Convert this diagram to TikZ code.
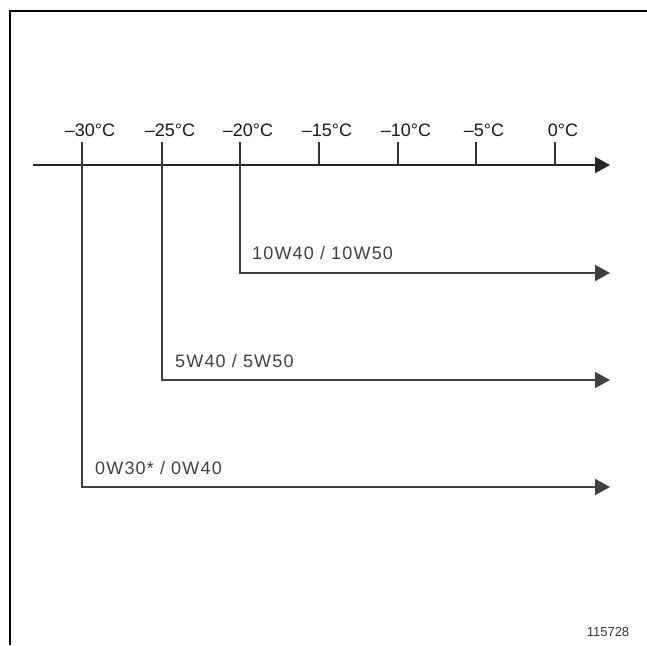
\documentclass[tikz,border=0pt]{standalone}
\usepackage{fontspec}
\setmainfont{Liberation Sans}
\newfontfamily\spacedfont[LetterSpace=6.5]{Liberation Sans}
\usetikzlibrary{arrows.meta}
\begin{document}
\begin{tikzpicture}[x=1pt,y=-1pt,
  frameline/.style={line width=2.5pt, black},
  axisline/.style={line width=1.8pt, black!85, -{Triangle[length=15pt,width=16pt]}},
  oilline/.style={line width=1.6pt, black!75, -{Triangle[length=15pt,width=16pt]}},
  tickline/.style={line width=1.4pt, black!80},
  templabel/.style={font=\fontsize{18}{21}\selectfont, anchor=center, inner sep=0pt, text=black!90},
  oillabel/.style={font=\spacedfont\fontsize{18}{21}\selectfont, anchor=west, inner sep=0pt, text=black!75},
  reflabel/.style={font=\fontsize{13}{15}\selectfont, inner sep=0pt, text=black!80}]
\useasboundingbox (0,0) rectangle (647,645);
% frame
\coordinate (fbl) at (10,645);
\coordinate (ftl) at (10,11);
\coordinate (ftr) at (647,11);
\draw[frameline] (fbl) -- (ftl) -- (ftr);
% axis
\coordinate (axstart) at (33,165);
\coordinate (axend) at (610,165);
\draw[axisline] (axstart) -- (axend);
% ticks and labels
\foreach \nm/\xx/\lab in {m30/82/{–30°C}, m25/162/{–25°C}, m20/240/{–20°C}, m15/319/{–15°C}, m10/398/{–10°C}, m5/476/{–5°C}, z0/555/{0°C}}{
  \coordinate (top\nm) at (\xx,142);
  \coordinate (ax\nm) at (\xx,165);
  \draw[tickline] (top\nm) -- (ax\nm);
  \node[templabel] (lab\nm) at (\xx+8,130) {\lab};
}
% oil grade lines
\coordinate (c20) at (240,273);
\coordinate (e20) at (610,273);
\coordinate (c25) at (162,380);
\coordinate (e25) at (610,380);
\coordinate (c30) at (82,487);
\coordinate (e30) at (610,487);
\draw[oilline] (axm20) -- (c20) -- (e20);
\draw[oilline] (axm25) -- (c25) -- (e25);
\draw[oilline] (axm30) -- (c30) -- (e30);
\node[oillabel] (g10) at (252,253) {10W40 / 10W50};
\node[oillabel] (g5) at (175,361) {5W40 / 5W50};
\node[oillabel] (g0) at (95,468) {0W30* / 0W40};
\node[reflabel] (ref) at (608,632) {115728};
\end{tikzpicture}
\end{document}
